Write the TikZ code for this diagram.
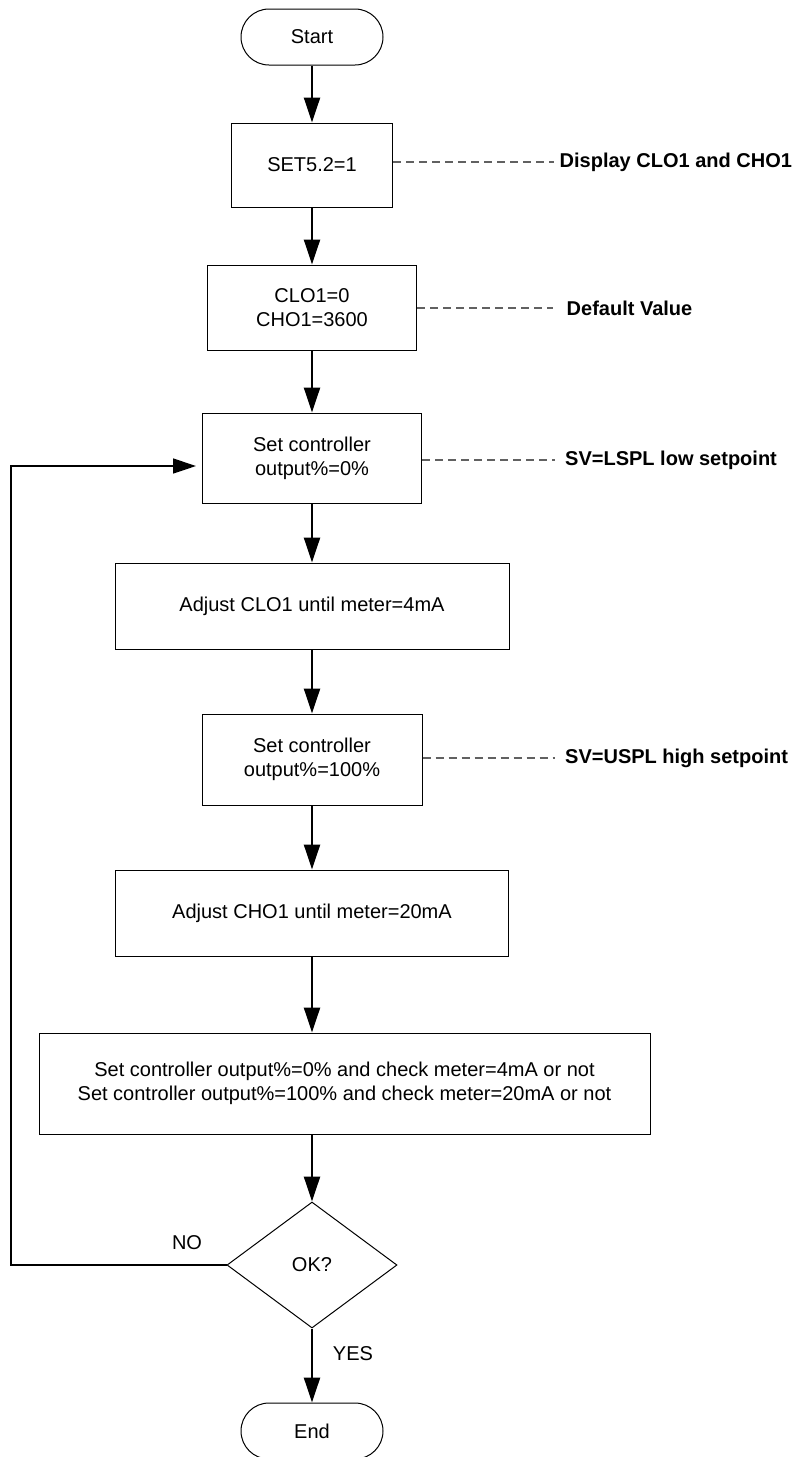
\documentclass[tikz,border=0pt]{standalone}
\usepackage{fontspec}
\setmainfont{Liberation Sans}
\usetikzlibrary{shapes.geometric,arrows.meta}
\begin{document}
\begin{tikzpicture}[x=1pt,y=-1pt,
  every node/.style={font=\fontsize{20}{24}\selectfont},
  proc/.style={draw, line width=1pt, rectangle, inner sep=0pt, align=center},
  term/.style={draw, line width=1pt, rectangle, rounded corners=28pt, minimum width=142pt, minimum height=56pt, inner sep=0pt},
  decision/.style={draw, line width=1pt, shape=diamond, aspect=1.349, minimum width=170pt, minimum height=126pt, inner sep=0pt},
  flow/.style={line width=2.4pt, -{Triangle[length=25pt,width=16pt]}},
  loopline/.style={line width=1.4pt, -{Triangle[length=23pt,width=15pt]}},
  note/.style={anchor=west, inner sep=0pt, font=\fontsize{20}{24}\selectfont\bfseries},
  dashline/.style={draw=black!62, line width=1.2pt, dash pattern=on 8pt off 5pt},
  plain/.style={inner sep=0pt}
]
\useasboundingbox (0,0) rectangle (799,1457);

\node[term] (start) at (312,37) {Start};
\node[proc, minimum width=161pt, minimum height=84pt] (set52) at (312,165) {SET5.2=1};
\node[proc, minimum width=209pt, minimum height=85pt] (clo) at (312,307.5) {CLO1=0\\ CHO1=3600};
\node[proc, minimum width=219pt, minimum height=90pt] (set0) at (312,458) {Set controller\\output\%=0\%};
\node[proc, minimum width=394pt, minimum height=86pt] (adjclo) at (312,606) {Adjust CLO1 until meter=4mA};
\node[proc, minimum width=220pt, minimum height=91pt] (set100) at (312,759.5) {Set controller\\output\%=100\%};
\node[proc, minimum width=393pt, minimum height=86pt] (adjcho) at (312,913) {Adjust CHO1 until meter=20mA};
\node[proc, minimum width=611pt, minimum height=101pt] (check) at (344.5,1083.5) {Set controller output\%=0\% and check meter=4mA or not\\Set controller output\%=100\% and check meter=20mA or not};
\node[decision] (ok) at (312,1265) {OK?};
\node[term] (end) at (312,1431) {End};

\node[plain] (no) at (187,1243) {NO};
\node[plain] (yes) at (353,1354) {YES};

\node[note] (n1) at (559.5,162) {Display CLO1 and CHO1};
\node[note] (n2) at (566.5,308) {Default Value};
\node[note] (n3) at (565,460) {SV=LSPL low setpoint};
\node[note] (n4) at (565,758) {SV=USPL high setpoint};

\draw[flow] (start.south) -- (set52.north);
\draw[flow] (set52.south) -- (clo.north);
\draw[flow] (clo.south) -- (set0.north);
\draw[flow] (set0.south) -- (adjclo.north);
\draw[flow] (adjclo.south) -- (set100.north);
\draw[flow] (set100.south) -- (adjcho.north);
\draw[flow] (adjcho.south) -- (adjcho.south |- check.north);
\draw[flow] (ok.north |- check.south) -- (ok.north);
\draw[flow] (ok.south) -- (end.north);

\coordinate (lc) at (11,466);
\draw[loopline] (ok.west) -| (lc) -- ([xshift=-6pt]lc -| set0.west);

\draw[dashline] (set52.east |- n1.west) -- (554,162);
\draw[dashline] (clo.east |- n2.west) -- (553,308);
\draw[dashline] (set0.east |- n3.west) -- (555,460);
\draw[dashline] (set100.east |- n4.west) -- (555,758);
\end{tikzpicture}
\end{document}
